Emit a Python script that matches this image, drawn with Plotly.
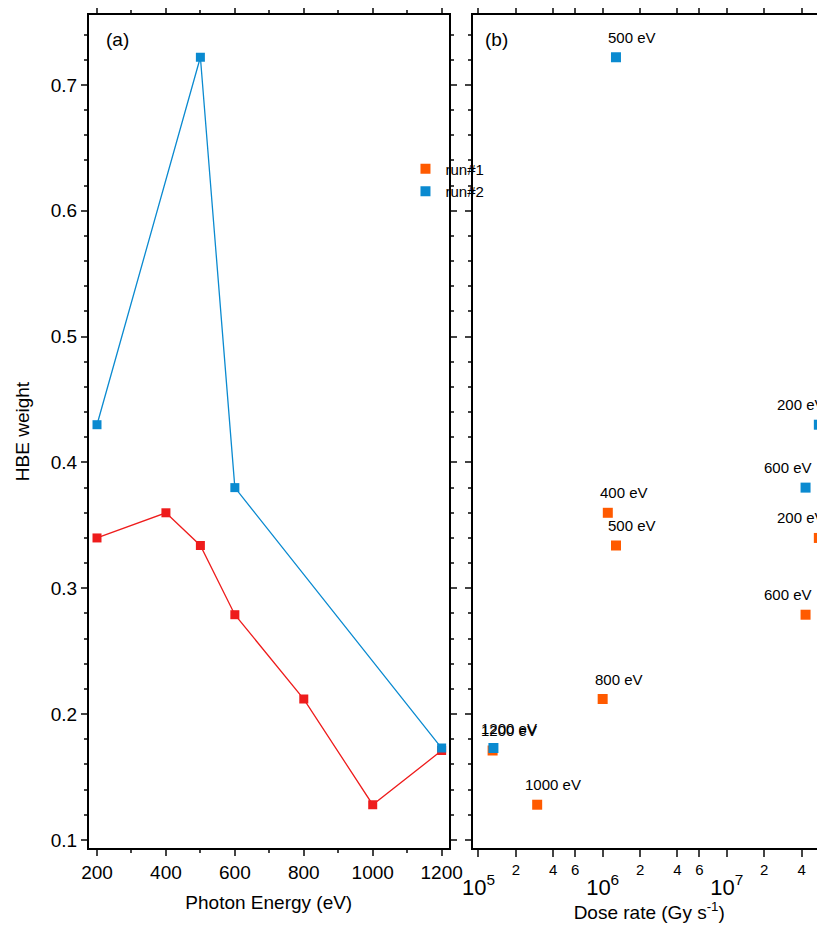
import numpy as np
import plotly.graph_objects as go

# panel (a): HBE weight vs photon energy
energy_run1 = [200, 400, 500, 600, 800, 1000, 1200]
hbe_run1 = [0.340, 0.360, 0.334, 0.279, 0.212, 0.128, 0.171]
energy_run2 = [200, 500, 600, 1200]
hbe_run2 = [0.430, 0.722, 0.380, 0.173]

# panel (b): HBE weight vs dose rate
dose_run1 = [5.5e7, 1.1e6, 1.28e6, 4.3e7, 1.0e6, 2.97e5, 1.3e5]
dose_run2 = [5.5e7, 1.28e6, 4.3e7, 1.32e5]
labels_run1 = ["200 eV", "400 eV", "500 eV", "600 eV", "800 eV", "1000 eV", "1200 eV"]
labels_run2 = ["200 eV", "500 eV", "600 eV", "1200 eV"]

RED = "#ee1c1c"
ORANGE = "#ff5a00"
BLUE = "#0a8ad0"
FONT = "Liberation Sans, Arial"

fig = go.Figure()

fig.add_trace(go.Scatter(x=energy_run1, y=hbe_run1, mode="lines+markers",
                         line=dict(color=RED, width=1.3),
                         marker=dict(symbol="square", size=9, color=RED),
                         showlegend=False, xaxis="x", yaxis="y"))
fig.add_trace(go.Scatter(x=energy_run2, y=hbe_run2, mode="lines+markers",
                         line=dict(color=BLUE, width=1.3),
                         marker=dict(symbol="square", size=9, color=BLUE),
                         showlegend=False, xaxis="x", yaxis="y"))

fig.add_trace(go.Scatter(x=dose_run1, y=hbe_run1, mode="markers", name="run#1",
                         marker=dict(symbol="square", size=10, color=ORANGE),
                         xaxis="x2", yaxis="y2"))
fig.add_trace(go.Scatter(x=dose_run2, y=hbe_run2, mode="markers", name="run#2",
                         marker=dict(symbol="square", size=10, color=BLUE),
                         xaxis="x2", yaxis="y2"))

# log axis tick labels: big decades, small 2/4/6
tv, tt = [], []
for d in [5, 6, 7]:
    tv.append(10 ** d)
    tt.append("<br><span style='font-size:22px'>10<sup>%d</sup></span>" % d)
    for m in [2, 4, 6]:
        tv.append(m * 10 ** d)
        tt.append(str(m))

ax = dict(showline=True, linecolor="black", linewidth=2, mirror="ticks",
          ticks="outside", ticklen=6, tickwidth=1.5, showgrid=False, zeroline=False,
          automargin=False, tickfont=dict(size=19, color="black"))
yticks = [0.1, 0.2, 0.3, 0.4, 0.5, 0.6, 0.7]

fig.update_layout(
    width=817, height=918,
    margin=dict(l=81, r=0, t=7, b=78),
    plot_bgcolor="white", paper_bgcolor="white",
    font=dict(family=FONT, color="black"),
    xaxis=dict(ax, domain=[0, 0.4885], range=[176.8, 1220],
               tickvals=[200, 400, 600, 800, 1000, 1200],
               minor=dict(ticks="outside", ticklen=3, dtick=100),
               title=dict(text="Photon Energy (eV)", font=dict(size=19), standoff=14)),
    yaxis=dict(ax, domain=[0, 1], range=[0.0936, 0.7556], tickvals=yticks,
               minor=dict(ticks="outside", ticklen=3, dtick=0.02),
               title=dict(text="HBE weight", font=dict(size=19), standoff=16)),
    xaxis2=dict(ax, domain=[0.5224, 1.0], type="log", range=[4.96, 7.79],
                anchor="y2", tickvals=tv, ticktext=tt, tickfont=dict(size=15),
                ticklen=7,
                title=dict(text="Dose rate (Gy s<sup>-1</sup>)", font=dict(size=19),
                           standoff=0)),
    yaxis2=dict(ax, domain=[0, 1], range=[0.0936, 0.7556], anchor="x2",
                tickvals=yticks, showticklabels=False,
                minor=dict(ticks="outside", ticklen=3, dtick=0.02)),
    legend=dict(x=0.43, y=0.835, xanchor="left", yanchor="top",
                bgcolor="rgba(0,0,0,0)", font=dict(size=15), itemwidth=30),
)

fig.add_annotation(text="(a)", x=0.02, y=0.985, xref="paper", yref="paper",
                   xanchor="left", yanchor="top", showarrow=False,
                   font=dict(size=19, weight="normal"))
fig.add_annotation(text="(b)", x=0.535, y=0.985, xref="paper", yref="paper",
                   xanchor="left", yanchor="top", showarrow=False,
                   font=dict(size=19, weight="normal"))

# energy labels above each point in panel (b)
for xs, ys, ls in [(dose_run1, hbe_run1, labels_run1), (dose_run2, hbe_run2, labels_run2)]:
    for x, y, t in zip(xs, ys, ls):
        shift = -18 if x > 1e7 else 16
        fig.add_annotation(x=np.log10(x), y=y, text=t, xref="x2", yref="y2",
                           showarrow=False, yshift=20, xshift=shift,
                           font=dict(size=15, color="black"))

fig.write_html("out.html")
